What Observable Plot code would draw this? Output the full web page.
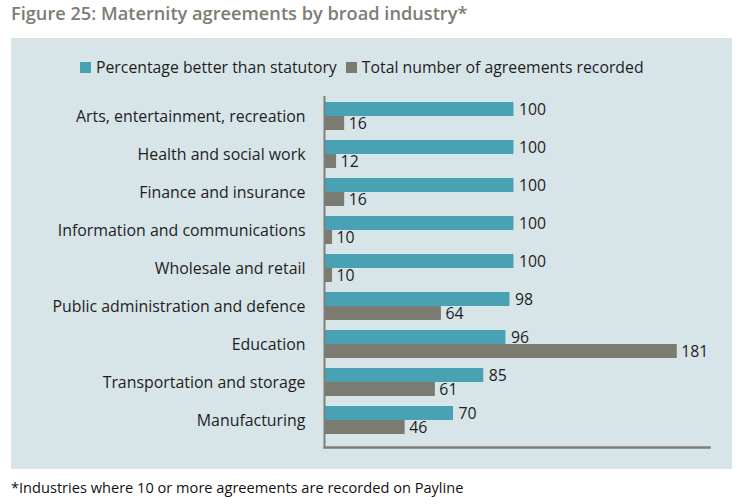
<!DOCTYPE html>
<html>
<head>
<meta charset="utf-8">
<script src="https://cdn.jsdelivr.net/npm/d3@7"></script>
<script src="https://cdn.jsdelivr.net/npm/@observablehq/plot@0.6"></script>
<style>
  html, body { margin: 0; padding: 0; background: #ffffff; }
  body { width: 750px; height: 504px; position: relative; overflow: hidden; font-family: "Open Sans", Lato, sans-serif; }
  #title { position: absolute; left: 11px; top: 1px; font-size: 18.2px; font-weight: 600; color: #7d7c73; white-space: nowrap; }
  #panel { position: absolute; left: 11px; top: 38px; width: 721px; height: 431px; background: #d7e4e8; }
  #chart { position: absolute; left: 0px; top: 38px; }
  #legend { position: absolute; left: 80px; top: 56px; font-size: 15.8px; color: #1e1e1e; white-space: nowrap; display: flex; align-items: center; }
  .sw { display: inline-block; width: 11px; height: 11px; margin-right: 5px; }
  .item { display: inline-flex; align-items: center; margin-right: 9px; }
  #note { position: absolute; left: 11px; top: 477px; font-size: 14.6px; color: #111; white-space: nowrap; }
</style>
</head>
<body>
<div id="title">Figure 25: Maternity agreements by broad industry*</div>
<div id="panel"></div>
<div id="legend"></div>
<div id="chart"></div>
<div id="note">*Industries where 10 or more agreements are recorded on Payline</div>
<script>
// ---- data ----
const industries = [
  "Arts, entertainment, recreation",
  "Health and social work",
  "Finance and insurance",
  "Information and communications",
  "Wholesale and retail",
  "Public administration and defence",
  "Education",
  "Transportation and storage",
  "Manufacturing"
];
const pctBetter = [100, 100, 100, 100, 100, 98, 96, 85, 70];
const totalAgreements = [16, 12, 16, 10, 10, 64, 181, 61, 46];
const seriesNames = ["Percentage better than statutory", "Total number of agreements recorded"];
const seriesColors = ["#49a2b3", "#7c7b72"];

// axis baseline of the original chart and its upper end
const xMin = 6, xMax = 197;

const rowsPct = industries.map((d, i) => ({industry: d, value: pctBetter[i]}));
const rowsTot = industries.map((d, i) => ({industry: d, value: totalAgreements[i]}));

// legend
const legend = document.getElementById("legend");
seriesNames.forEach((name, i) => {
  const it = document.createElement("span");
  it.className = "item";
  it.innerHTML = `<span class="sw" style="background:${seriesColors[i]}"></span>${name}`;
  legend.appendChild(it);
});

// layout
const W = 750, H = 431, mTop = 58, mBottom = 22, mLeft = 324, mRight = 41;
const padInner = 0.275, padOuter = 0.18;
const step = (H - mTop - mBottom) / (industries.length - padInner + 2 * padOuter);
const bw = step * (1 - padInner);
const half = bw / 2;

const chart = Plot.plot({
  width: W,
  height: H,
  marginTop: mTop,
  marginBottom: mBottom,
  marginLeft: mLeft,
  marginRight: mRight,
  style: {background: "transparent", fontFamily: "'Open Sans', Lato, sans-serif", fontSize: "15.9px", color: "#1e1e1e"},
  x: {domain: [xMin, xMax], axis: null},
  y: {domain: industries, paddingInner: padInner, paddingOuter: padOuter, align: 0.29, tickSize: 0, tickPadding: 19, label: null},
  marks: [
    Plot.barX(rowsPct, {y: "industry", x1: xMin, x2: "value", fill: seriesColors[0], insetBottom: half}),
    Plot.barX(rowsTot, {y: "industry", x1: xMin, x2: "value", fill: seriesColors[1], insetTop: half}),
    Plot.text(rowsPct, {y: "industry", x: "value", text: d => String(d.value), dx: 5, dy: -half / 2, textAnchor: "start", fill: "#1e1e1e", fontSize: 15.8}),
    Plot.text(rowsTot, {y: "industry", x: "value", text: d => String(d.value), dx: 4, dy: half / 2, textAnchor: "start", fill: "#1e1e1e", fontSize: 15.8}),
    Plot.ruleX([xMin], {stroke: "#7e7e76", strokeWidth: 2}),
    Plot.frame({anchor: "bottom", stroke: "#7e7e76", strokeWidth: 2.5})
  ]
});
document.getElementById("chart").appendChild(chart);
</script>
</body>
</html>
